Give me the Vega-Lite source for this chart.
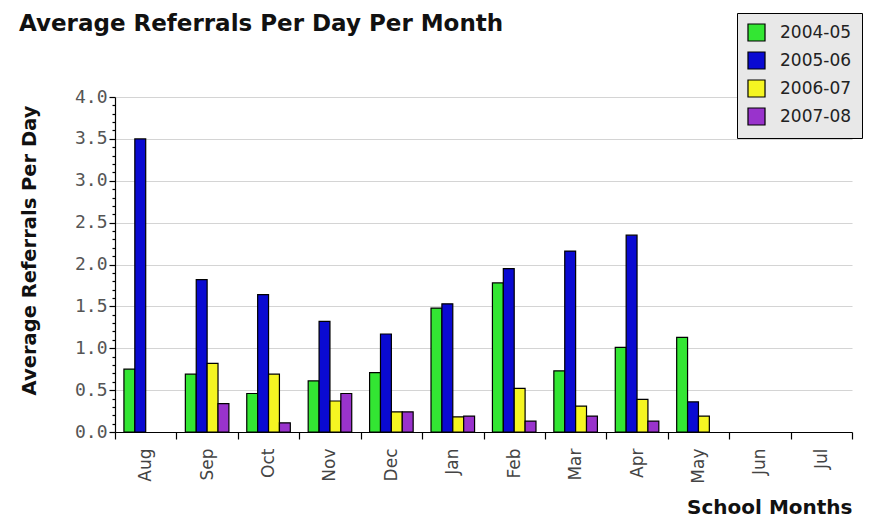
{
  "$schema": "https://vega.github.io/schema/vega-lite/v6.json",
  "autosize": {"type": "none"},
  "padding": {"left": 115, "top": 97, "right": 19, "bottom": 97},
  "width": 737,
  "height": 335,
  "background": "white",
  "title": {
    "text": "Average Referrals Per Day Per Month",
    "anchor": "start",
    "frame": "group",
    "dx": -96,
    "offset": -41,
    "baseline": "alphabetic",
    "font": "DejaVu Sans",
    "fontSize": 23,
    "fontWeight": "bold",
    "color": "#111"
  },
  "config": {
    "view": {"stroke": null},
    "axis": {"domainColor": "#000", "tickColor": "#000", "domainWidth": 1.2, "tickWidth": 1.2}
  },
  "data": {
    "values": [
      {"month": "Aug", "year": "2004-05", "value": 0.75},
      {"month": "Aug", "year": "2005-06", "value": 3.5},
      {"month": "Sep", "year": "2004-05", "value": 0.69},
      {"month": "Sep", "year": "2005-06", "value": 1.82},
      {"month": "Sep", "year": "2006-07", "value": 0.82},
      {"month": "Sep", "year": "2007-08", "value": 0.34},
      {"month": "Oct", "year": "2004-05", "value": 0.46},
      {"month": "Oct", "year": "2005-06", "value": 1.64},
      {"month": "Oct", "year": "2006-07", "value": 0.69},
      {"month": "Oct", "year": "2007-08", "value": 0.11},
      {"month": "Nov", "year": "2004-05", "value": 0.61},
      {"month": "Nov", "year": "2005-06", "value": 1.32},
      {"month": "Nov", "year": "2006-07", "value": 0.37},
      {"month": "Nov", "year": "2007-08", "value": 0.46},
      {"month": "Dec", "year": "2004-05", "value": 0.71},
      {"month": "Dec", "year": "2005-06", "value": 1.17},
      {"month": "Dec", "year": "2006-07", "value": 0.24},
      {"month": "Dec", "year": "2007-08", "value": 0.24},
      {"month": "Jan", "year": "2004-05", "value": 1.48},
      {"month": "Jan", "year": "2005-06", "value": 1.53},
      {"month": "Jan", "year": "2006-07", "value": 0.18},
      {"month": "Jan", "year": "2007-08", "value": 0.19},
      {"month": "Feb", "year": "2004-05", "value": 1.78},
      {"month": "Feb", "year": "2005-06", "value": 1.95},
      {"month": "Feb", "year": "2006-07", "value": 0.52},
      {"month": "Feb", "year": "2007-08", "value": 0.13},
      {"month": "Mar", "year": "2004-05", "value": 0.73},
      {"month": "Mar", "year": "2005-06", "value": 2.16},
      {"month": "Mar", "year": "2006-07", "value": 0.31},
      {"month": "Mar", "year": "2007-08", "value": 0.19},
      {"month": "Apr", "year": "2004-05", "value": 1.01},
      {"month": "Apr", "year": "2005-06", "value": 2.35},
      {"month": "Apr", "year": "2006-07", "value": 0.39},
      {"month": "Apr", "year": "2007-08", "value": 0.13},
      {"month": "May", "year": "2004-05", "value": 1.13},
      {"month": "May", "year": "2005-06", "value": 0.36},
      {"month": "May", "year": "2006-07", "value": 0.19}
    ]
  },
  "mark": {"type": "bar", "stroke": "#000", "strokeWidth": 1.2},
  "encoding": {
    "x": {
      "field": "month",
      "type": "nominal",
      "sort": null,
      "scale": {
        "domain": ["Aug", "Sep", "Oct", "Nov", "Dec", "Jan", "Feb", "Mar", "Apr", "May", "Jun", "Jul"],
        "paddingInner": 0,
        "paddingOuter": 0
      },
      "axis": {
        "title": "School Months",
        "titleFont": "DejaVu Sans",
        "titleFontSize": 20,
        "titleFontWeight": "bold",
        "titleColor": "#111",
        "titleAnchor": "end",
        "titleAlign": "right",
        "titleBaseline": "alphabetic",
        "titleX": 737,
        "titleY": 81,
        "labelAngle": 270,
        "labelFont": "DejaVu Sans",
        "labelFontSize": 17,
        "labelColor": "#444",
        "labelPadding": 9,
        "tickBand": "extent",
        "tickSize": 7,
        "grid": false
      }
    },
    "xOffset": {
      "field": "year",
      "type": "nominal",
      "scale": {"domain": ["2004-05", "2005-06", "2006-07", "2007-08"], "paddingInner": 0, "paddingOuter": 0.82}
    },
    "y": {
      "field": "value",
      "type": "quantitative",
      "scale": {"domain": [0, 4], "nice": false},
      "axis": {
        "title": "Average Referrals Per Day",
        "titleFont": "DejaVu Sans",
        "titleFontSize": 19.5,
        "titleFontWeight": "bold",
        "titleColor": "#111",
        "titleBaseline": "top",
        "titleX": -95,
        "titleY": 153,
        "values": [0, 0.1, 0.2, 0.3, 0.4, 0.5, 0.6, 0.7, 0.8, 0.9, 1, 1.1, 1.2, 1.3, 1.4, 1.5, 1.6, 1.7, 1.8, 1.9, 2, 2.1, 2.2, 2.3, 2.4, 2.5, 2.6, 2.7, 2.8, 2.9, 3, 3.1, 3.2, 3.3, 3.4, 3.5, 3.6, 3.7, 3.8, 3.9, 4],
        "labelExpr": "abs(datum.value*2 - round(datum.value*2)) < 0.001 ? format(datum.value, '.1f') : ''",
        "labelFont": "DejaVu Sans Mono",
        "labelFontSize": 18,
        "labelColor": "#555",
        "labelPadding": 2,
        "labelOverlap": false,
        "labelFlush": false,
        "tickSize": {"condition": {"test": "abs(datum.value*2 - round(datum.value*2)) < 0.001", "value": 6}, "value": 3},
        "grid": true,
        "gridColor": "#d4d4d4",
        "gridWidth": 1.2,
        "gridOpacity": {"condition": {"test": "abs(datum.value*2 - round(datum.value*2)) < 0.001", "value": 1}, "value": 0}
      }
    },
    "color": {
      "field": "year",
      "type": "nominal",
      "scale": {
        "domain": ["2004-05", "2005-06", "2006-07", "2007-08"],
        "range": ["#33e633", "#0a0ad2", "#f5f522", "#9933cc"]
      },
      "legend": {
        "title": null,
        "orient": "none",
        "legendX": 622,
        "legendY": -84,
        "symbolType": "square",
        "symbolSize": 290,
        "symbolStrokeColor": "#000",
        "symbolStrokeWidth": 1.2,
        "labelFont": "DejaVu Sans",
        "labelFontSize": 17,
        "labelColor": "#222",
        "labelOffset": 14,
        "rowPadding": 5,
        "padding": 10,
        "fillColor": "#e8e8e8",
        "strokeColor": "#000"
      }
    }
  }
}
